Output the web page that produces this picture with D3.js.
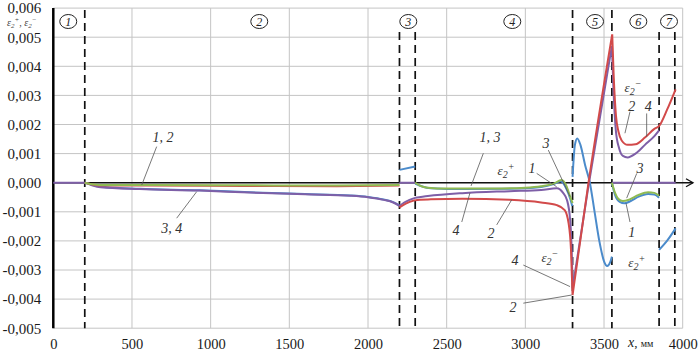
<!DOCTYPE html>
<html><head><meta charset="utf-8">
<script src="https://cdn.jsdelivr.net/npm/d3@7"></script>
<style>body{margin:0;background:#fff}svg{display:block}svg text{font-family:"Liberation Serif",Tinos,"Times New Roman",Times,"DejaVu Serif",serif}</style>
</head><body><svg id="c" width="700" height="353"></svg>
<script>
// ---- data (x in mm, strain values in units of 0.001) ----
const xTickValues = [0, 500, 1000, 1500, 2000, 2500, 3000, 3500, 4000];
const yTickValues = [-5, -4, -3, -2, -1, 0, 1, 2, 3, 4, 5, 6];
const zoneBounds = [200, 2200, 2300, 3300, 3550, 3850, 3950];
const zoneBoundsTall = [200, 3300, 3550];
const zoneNames = ["1", "2", "3", "4", "5", "6", "7"];
const zoneLabelX = [95, 1309, 2256, 2917, 3443, 3718, 3913];

const blue = [
  [200,0],[260,-0.09],[330,-0.15],[550,-0.21],[930,-0.26],[1250,-0.33],[1600,-0.39],[1890,-0.44],[2000,-0.49],[2100,-0.58],[2160,-0.67],[2200,-0.79], null,
  [2200,0.44],[2300,0.56], null,
  [2300,-0.03],[2340,-0.12],[2400,-0.19],[2600,-0.22],[2900,-0.21],[3100,-0.15],[3180,-0.05],[3225,0.05],[3260,-0.2],[3285,-0.55],[3298,-0.8], null,
  [3300,0.2],[3315,1.3],[3330,1.52],[3350,1.3],[3380,0.6],[3410,0],[3440,-1.0],[3470,-2.0],[3500,-2.7],[3520,-2.86],[3540,-2.72],[3550,-2.54], null,
  [3550,0],[3570,-0.42],[3600,-0.66],[3630,-0.71],[3670,-0.63],[3720,-0.48],[3780,-0.39],[3820,-0.41],[3850,-0.52], null,
  [3850,-2.31],[3900,-2.0],[3955,-1.57]
];
const red = [
  [200,0],[260,-0.07],[330,-0.1],[600,-0.1],[1200,-0.11],[1800,-0.12],[2200,-0.1], null,
  [2200,-0.85],[2240,-0.72],[2300,-0.6], null,
  [2300,-0.6],[2400,-0.57],[2600,-0.55],[2900,-0.59],[3100,-0.68],[3200,-0.77],[3250,-0.94],[3275,-1.4],[3290,-2.3],[3300,-3.86], null,
  [3300,-3.86],[3400,-0.05],[3552,5.1], null,
  [3552,5.1],[3562,3.6],[3576,2.3],[3592,1.75],[3612,1.45],[3650,1.3],[3700,1.32],[3760,1.55],[3820,1.85],[3850,1.95],[3900,2.5],[3955,3.21]
];
const green = [
  [200,0],[260,-0.06],[330,-0.08],[600,-0.08],[1200,-0.09],[1800,-0.1],[2200,-0.08], null,
  [2300,0],[2330,-0.1],[2380,-0.17],[2500,-0.2],[2800,-0.2],[3000,-0.17],[3100,-0.12],[3180,-0.03],[3230,0.09],[3260,-0.1],[3285,-0.48],[3300,-0.7], null,
  [3550,0],[3570,-0.35],[3590,-0.55],[3620,-0.63],[3660,-0.58],[3720,-0.42],[3780,-0.33],[3820,-0.35],[3850,-0.45]
];
const purple = [
  [0,0],[200,0],[250,-0.1],[300,-0.16],[550,-0.22],[930,-0.27],[1250,-0.34],[1600,-0.4],[1890,-0.45],[2000,-0.5],[2100,-0.59],[2160,-0.68],[2200,-0.8], null,
  [2200,-0.8],[2230,-0.68],[2260,-0.6],[2300,-0.52], null,
  [2300,-0.52],[2380,-0.46],[2600,-0.36],[2900,-0.29],[3100,-0.25],[3200,-0.19],[3240,-0.35],[3265,-0.6],[3285,-1.3],[3295,-2.4],[3300,-3.63], null,
  [3300,-3.63],[3400,-0.15],[3550,4.7], null,
  [3550,4.7],[3560,3.2],[3575,1.8],[3595,1.2],[3620,0.92],[3650,0.87],[3700,1.0],[3760,1.3],[3820,1.6],[3850,1.8], null,
  [2200,0],[2300,0], null,
  [3550,0],[3955,0]
];

// annotations: text, label position, leader from -> to (data coords)
const notes = [
  {t:"1, 2", at:[697,1.57], l:[[657,1.24],[562,-0.08]]},
  {t:"3, 4", at:[753,-1.56], l:[[784,-1.22],[911,-0.31]]},
  {t:"1, 3", at:[2775,1.57], l:[[2733,1.01],[2655,-0.11]]},
  {t:"4", at:[2559,-1.63], l:[[2596,-1.35],[2648,-0.35]]},
  {t:"2", at:[2782,-1.74], l:[[2818,-1.45],[2913,-0.59]]},
  {t:"ε+", at:[2877,0.44]},
  {t:"1", at:[3042,0.5], l:[[3072,0.32],[3199,-0.14]]},
  {t:"3", at:[3131,1.36], l:[[3146,1.12],[3284,-0.48]]},
  {t:"ε-", at:[3156,-2.55]},
  {t:"4", at:[2934,-2.66], l:[[2987,-2.83],[3284,-3.57]]},
  {t:"2", at:[2922,-4.27], l:[[2987,-4.14],[3295,-3.86]]},
  {t:"ε-", at:[3684,3.29]},
  {t:"2", at:[3676,2.64], l:[[3665,2.44],[3633,1.7]]},
  {t:"4", at:[3781,2.64], l:[[3771,2.38],[3771,1.58]]},
  {t:"3", at:[3728,0.5], l:[[3708,0.32],[3644,-0.53]]},
  {t:"1", at:[3676,-1.69], l:[[3665,-1.35],[3640,-0.71]]},
  {t:"ε+", at:[3708,-2.73]}
];

// ---- drawing ----
const svg = d3.select("#c");
const x = d3.scaleLinear([0, 4000], [53.3, 682.7]);
const y = d3.scaleLinear([-5, 6], [328.2, 8.1]);

// grid
svg.append("g").selectAll("line").data(xTickValues.slice(1)).join("line")
  .attr("x1", d => x(d)).attr("x2", d => x(d)).attr("y1", y(6)).attr("y2", y(-5))
  .attr("stroke", "#c4c4c4").attr("stroke-width", 1);
svg.append("g").selectAll("line").data(yTickValues).join("line")
  .attr("x1", x(0)).attr("x2", x(4000)).attr("y1", d => y(d)).attr("y2", d => y(d))
  .attr("stroke", "#c4c4c4").attr("stroke-width", 1);

// axes tick labels
const fmt = d => (d / 1000).toFixed(3).replace(".", ",");
const ya = svg.append("g").attr("transform", `translate(${x(0)},0)`)
  .call(d3.axisLeft(y).tickValues(yTickValues).tickFormat(fmt).tickSize(0).tickPadding(12));
ya.select(".domain").remove();
ya.attr("font-family", null);
ya.selectAll("text").style("font-size", "15px").attr("fill", "#1a1a1a");
const xa = svg.append("g").attr("transform", `translate(0,${y(-5)})`)
  .call(d3.axisBottom(x).tickValues(xTickValues).tickFormat(d3.format("d")).tickSize(0).tickPadding(11));
xa.select(".domain").remove();
xa.attr("font-family", null);
xa.selectAll("text").style("font-size", "14.5px").attr("fill", "#1a1a1a");

// zone dashed lines
svg.append("g").selectAll("line").data(zoneBounds).join("line")
  .attr("x1", d => x(d)).attr("x2", d => x(d))
  .attr("y1", d => zoneBoundsTall.includes(d) ? 10 : 32).attr("y2", y(-5))
  .attr("stroke", "#111").attr("stroke-width", 1.7).attr("stroke-dasharray", "8,5");

// axis lines
svg.append("line").attr("x1", x(0)).attr("x2", 693).attr("y1", y(0)).attr("y2", y(0))
  .attr("stroke", "#111").attr("stroke-width", 1.5);
svg.append("path").attr("d", `M${686},${y(0)-4} L693,${y(0)} L${686},${y(0)+4}`)
  .attr("fill", "none").attr("stroke", "#111").attr("stroke-width", 1.3);
svg.append("line").attr("x1", x(0)).attr("x2", x(0)).attr("y1", y(6)).attr("y2", y(-5))
  .attr("stroke", "#000").attr("stroke-width", 2.5);

// series
const line = d3.line().defined(d => d).x(d => x(d[0])).y(d => y(d[1])).curve(d3.curveMonotoneX);
[[blue, "#4b8bcb"], [purple, "#7e5fa7"], [red, "#d24a4a"], [green, "#8fba52"]].forEach(([s, c]) => {
  svg.append("path").attr("d", line(s)).attr("fill", "none").attr("stroke", c)
    .attr("stroke-width", 2).attr("stroke-linejoin", "round");
});

// zone labels
const zg = svg.append("g").selectAll("g").data(zoneNames).join("g")
  .attr("transform", (d, i) => `translate(${x(zoneLabelX[i])},21.5)`);
zg.append("ellipse").attr("rx", 8.5).attr("ry", 7).attr("fill", "#fff").attr("stroke", "#222").attr("stroke-width", 1);
zg.append("text").text(d => d).attr("text-anchor", "middle").attr("dy", "0.35em")
  .attr("font-style", "italic").style("font-size", "12px").attr("fill", "#222");

// annotations
const ng = svg.append("g");
notes.forEach(n => {
  if (n.l) ng.append("line").attr("x1", x(n.l[0][0])).attr("y1", y(n.l[0][1]))
    .attr("x2", x(n.l[1][0])).attr("y2", y(n.l[1][1])).attr("stroke", "#555").attr("stroke-width", 0.8);
  const t = ng.append("text").attr("x", x(n.at[0])).attr("y", y(n.at[1])).attr("dy", "0.35em")
    .attr("text-anchor", "middle").attr("font-style", "italic")
    .style("font-size", "14px").attr("fill", "#333");
  if (n.t.startsWith("ε")) {
    t.append("tspan").text("ε").style("font-size", "13px");
    t.append("tspan").text("2").style("font-size", "10px").attr("dy", 3);
    t.append("tspan").text(n.t[1] === "-" ? "−" : "+").style("font-size", "10px").attr("dy", -8);
  } else t.text(n.t);
});

// axis titles
const yl = svg.append("text").attr("x", 7).attr("y", 26)
  .attr("font-style", "italic").style("font-size", "10px").attr("fill", "#444");
yl.append("tspan").text("ε");
yl.append("tspan").text("2").style("font-size", "7px").attr("dy", 2);
yl.append("tspan").text("+").style("font-size", "7px").attr("dy", -6);
yl.append("tspan").text(", ε").attr("dy", 4);
yl.append("tspan").text("2").style("font-size", "7px").attr("dy", 2);
yl.append("tspan").text("−").style("font-size", "7px").attr("dy", -6);

const xl = svg.append("text").attr("x", 628).attr("y", 347).attr("fill", "#1a1a1a");
xl.append("tspan").text("x").attr("font-style", "italic").style("font-size", "14px");
xl.append("tspan").text(", ").style("font-size", "13px");
xl.append("tspan").text("мм").style("font-size", "10px");
</script></body></html>
